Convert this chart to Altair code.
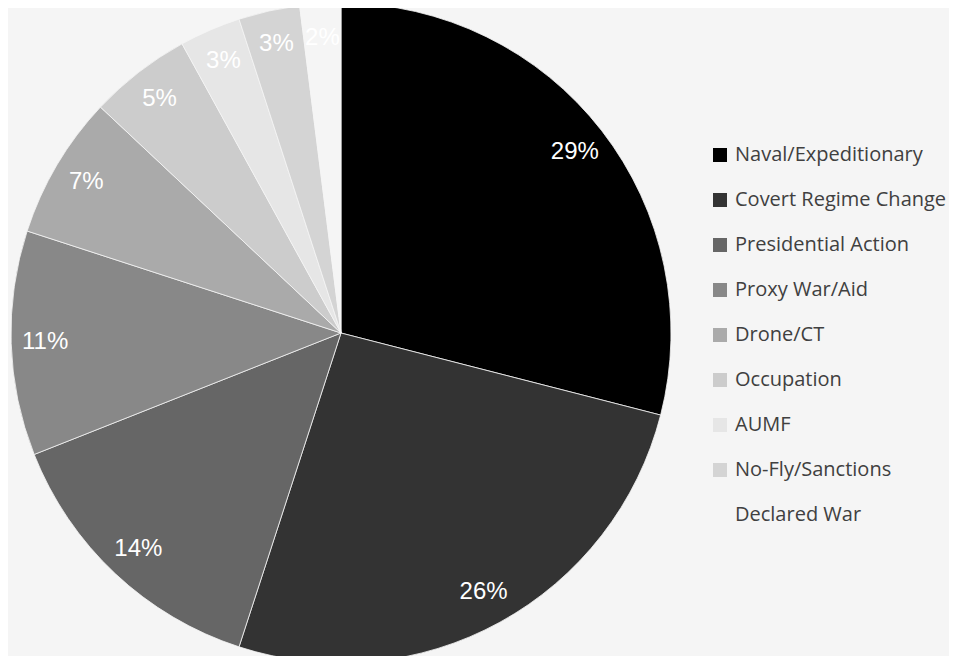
import altair as alt
import pandas as pd

categories = ["Naval/Expeditionary", "Covert Regime Change", "Presidential Action",
              "Proxy War/Aid", "Drone/CT", "Occupation", "AUMF", "No-Fly/Sanctions",
              "Declared War"]
shares = [29, 26, 14, 11, 7, 5, 3, 3, 2]
colors = ["#000000", "#333333", "#666666", "#888888", "#aaaaaa", "#cccccc",
          "#e6e6e6", "#d4d4d4", "#f5f5f5"]

df = pd.DataFrame({
    "category": categories,
    "share": shares,
    "order": list(range(len(categories))),
    "label": [f"{v}%" for v in shares],
})

CX, CY, R = 333, 325, 330

base = alt.Chart(df).encode(
    theta=alt.Theta("share:Q", stack=True),
    order=alt.Order("order:Q"),
    x=alt.value(CX),
    y=alt.value(CY),
)

pie = base.mark_arc(outerRadius=R, stroke="#f5f5f5", strokeWidth=0.8).encode(
    color=alt.Color(
        "category:N",
        scale=alt.Scale(domain=categories, range=colors),
        sort=categories,
        legend=alt.Legend(
            title=None,
            orient="none",
            legendX=702,
            legendY=137,
            symbolType="square",
            symbolSize=196,
            symbolStrokeWidth=0,
            labelFont="Open Sans",
            labelFontSize=20,
            labelColor="#404040",
            labelOffset=5,
            labelLimit=300,
            rowPadding=25,
        ),
    )
)

labels = base.mark_text(
    radius=296, font="Liberation Sans", fontSize=24, color="#ffffff"
).encode(text="label:N")

chart = (
    (pie + labels)
    .properties(
        width=941,
        height=648,
        background="#f5f5f5",
        padding=0,
        autosize=alt.AutoSizeParams(type="none"),
    )
    .configure_view(stroke=None)
)

chart.save("out.html", embed_options={"renderer": "svg", "actions": False})
